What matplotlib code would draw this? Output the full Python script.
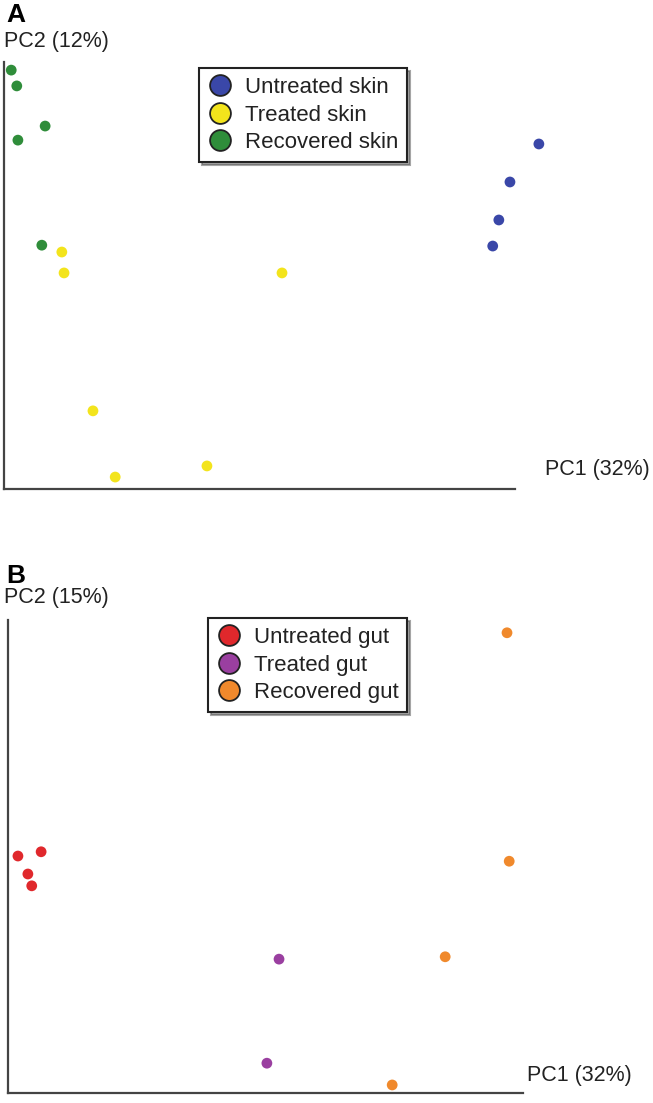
import matplotlib.pyplot as plt
from matplotlib.lines import Line2D

plt.rcParams['font.family'] = ['Liberation Sans', 'DejaVu Sans']

# panel A: skin samples (PC1, PC2 scores, arbitrary units 0-100)
skin_untreated_pc1 = [96.2, 91.0, 89.0, 87.9]
skin_untreated_pc2 = [80.8, 71.9, 63.0, 56.9]
skin_treated_pc1 = [10.4, 10.8, 50.0, 16.0, 20.0, 36.5]
skin_treated_pc2 = [55.5, 50.6, 50.6, 18.3, 2.8, 5.4]
skin_recovered_pc1 = [1.3, 2.3, 7.4, 2.5, 6.8]
skin_recovered_pc2 = [98.1, 94.4, 85.0, 81.7, 57.1]

# panel B: gut samples
gut_untreated_pc1 = [1.8, 6.0, 3.6, 4.3]
gut_untreated_pc2 = [50.1, 51.0, 46.3, 43.8]
gut_treated_pc1 = [49.1, 46.9]
gut_treated_pc2 = [28.3, 6.3]
gut_recovered_pc1 = [90.4, 90.8, 79.2, 69.6]
gut_recovered_pc2 = [97.3, 49.0, 28.8, 1.7]

W, H = 653, 1103
fig = plt.figure(figsize=(W / 100, H / 100), dpi=100)


def px_axes(left, right, top, bottom):
    return fig.add_axes([left / W, 1 - bottom / H, (right - left) / W, (bottom - top) / H])


def style(ax, xend):
    ax.set_xlim(0, 100)
    ax.set_ylim(0, 100)
    ax.set_xticks([])
    ax.set_yticks([])
    ax.spines['top'].set_visible(False)
    ax.spines['right'].set_visible(False)
    for s in ['left', 'bottom']:
        ax.spines[s].set_color('#444444')
        ax.spines[s].set_linewidth(1.6)
    ax.spines['bottom'].set_bounds(0, xend)


def leg(ax, labels, colors, x, y):
    handles = [Line2D([], [], marker='o', linestyle='none', markersize=15,
                      markerfacecolor=c, markeredgecolor='#222222', markeredgewidth=1.3)
               for c in colors]
    lg = ax.legend(handles, labels, loc='upper left', bbox_to_anchor=(x / W, 1 - y / H),
                   bbox_transform=fig.transFigure, fontsize=16, frameon=True, fancybox=False,
                   shadow=True, edgecolor='#222222', handletextpad=0.55, labelspacing=0.3,
                   borderpad=0.4, handlelength=1.1, borderaxespad=0)
    lg.get_frame().set_linewidth(1.5)
    for t in lg.get_texts():
        t.set_color('#222222')


dot = dict(s=60, edgecolors='none', clip_on=False, zorder=3)

# panel A
axA = px_axes(4, 560, 62, 489)
style(axA, 91.9)
axA.scatter(skin_untreated_pc1, skin_untreated_pc2, color='#3a47a8', **dot)
axA.scatter(skin_treated_pc1, skin_treated_pc2, color='#f3e41c', **dot)
axA.scatter(skin_recovered_pc1, skin_recovered_pc2, color='#2f8d3a', **dot)
leg(axA, ['Untreated skin', 'Treated skin', 'Recovered skin'],
    ['#3a47a8', '#f3e41c', '#2f8d3a'], 199, 68)

# panel B
axB = px_axes(8, 560, 620, 1093)
style(axB, 93.3)
axB.scatter(gut_untreated_pc1, gut_untreated_pc2, color='#e0282c', **dot)
axB.scatter(gut_treated_pc1, gut_treated_pc2, color='#9a3fa0', **dot)
axB.scatter(gut_recovered_pc1, gut_recovered_pc2, color='#f0892c', **dot)
leg(axB, ['Untreated gut', 'Treated gut', 'Recovered gut'],
    ['#e0282c', '#9a3fa0', '#f0892c'], 208, 618)

lab = dict(fontsize=15.5, va='center', ha='left', color='#222222')
fig.text(6 / W, 1 - 15 / H, 'A', fontsize=19, fontweight='bold', va='center', ha='left')
fig.text(4 / W, 1 - 42 / H, 'PC2 (12%)', **lab)
fig.text(545 / W, 1 - 470 / H, 'PC1 (32%)', **lab)
fig.text(6 / W, 1 - 576 / H, 'B', fontsize=19, fontweight='bold', va='center', ha='left')
fig.text(4 / W, 1 - 598 / H, 'PC2 (15%)', **lab)
fig.text(527 / W, 1 - 1075 / H, 'PC1 (32%)', **lab)

fig.savefig('out.png', dpi=100)
